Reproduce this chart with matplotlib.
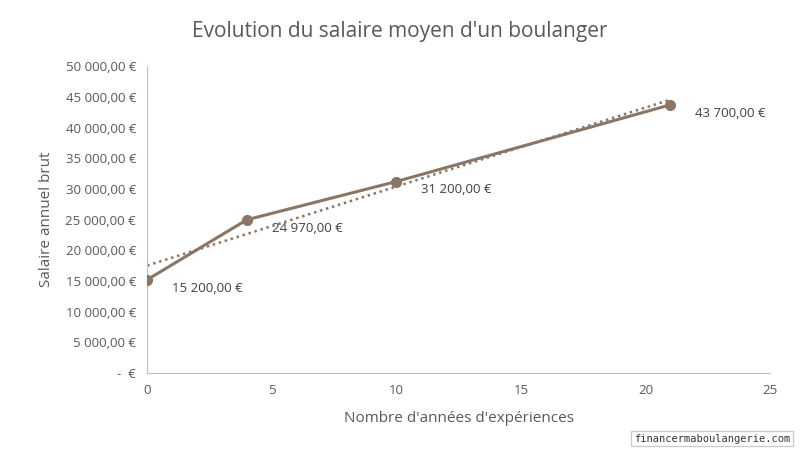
import matplotlib
matplotlib.use("Agg")
import matplotlib.pyplot as plt
import numpy as np
from matplotlib.ticker import FuncFormatter

years = [0, 4, 10, 21]
salaries = [15200, 24970, 31200, 43700]
labels = ["15 200,00 €", "24 970,00 €", "31 200,00 €", "43 700,00 €"]

plt.rcParams['font.family'] = ['Open Sans', 'DejaVu Sans']
fig = plt.figure(figsize=(8, 4.53), dpi=100)
ax = fig.add_axes([0.184, 0.1766, 0.7785, 0.6774])
col = '#8B7565'
ax.plot(years, salaries, color=col, lw=2.2, marker='o', ms=7, zorder=3)
c = np.polyfit(years, salaries, 1)
xt = np.array([0, 21])
ax.plot(xt, np.polyval(c, xt), color=col, lw=1.8, ls=(0, (1, 1.5)), zorder=2)
offs = [(18, -6), (18, -6), (18, -6), (18, -6)]
for x, y, l, o in zip(years, salaries, labels, offs):
    ax.annotate(l, (x, y), xytext=o, textcoords='offset points', fontsize=9.5,
                color='#404040', va='center', ha='left')
ax.set_xlim(0, 25)
ax.set_ylim(0, 50000)
ax.set_xticks(range(0, 26, 5))
ax.set_yticks(range(0, 50001, 5000))
def fmt(v, p):
    if v == 0:
        return "-  €"
    return f"{int(v):,}".replace(",", " ") + ",00 €"
ax.yaxis.set_major_formatter(FuncFormatter(fmt))
for s in ['top', 'right']:
    ax.spines[s].set_visible(False)
for s in ['left', 'bottom']:
    ax.spines[s].set_color('#BFBFBF')
ax.tick_params(length=0, labelsize=9.5, colors='#595959', pad=8)
ax.set_xlabel("Nombre d'années d'expériences", fontsize=11, color='#595959', labelpad=10)
ax.set_ylabel("Salaire annuel brut", fontsize=11, color='#595959', labelpad=8)
fig.text(0.5, 0.93, "Evolution du salaire moyen d'un boulanger", ha='center',
         va='center', fontsize=15, color='#595959')
fig.text(0.988, 0.032, "financermaboulangerie.com", ha='right', va='center',
         fontsize=7.5, family='DejaVu Sans Mono', color='#333333',
         bbox=dict(facecolor='white', edgecolor='#CCCCCC', pad=2))
fig.savefig("out.png", dpi=100)
